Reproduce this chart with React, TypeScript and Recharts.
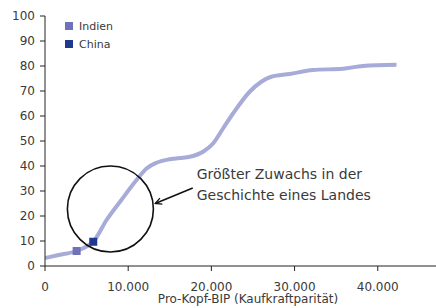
import React from 'react';
import {
  ComposedChart,
  Line,
  Scatter,
  XAxis,
  YAxis,
  ReferenceDot,
  ReferenceLine,
} from 'recharts';

const curveX = [0, 1500, 3800, 5000, 5800, 7400, 9200, 11000, 12200, 13400, 14800, 16200, 17400, 19000, 20200, 21400, 22600, 24600, 26000, 27200, 29400, 32200, 35800, 38200, 42250];
const curveY = [3.2, 4.3, 6.0, 7.8, 9.7, 18.4, 26.5, 34.4, 39, 41.3, 42.6, 43.2, 43.7, 45.7, 49, 55, 61, 69.7, 73.7, 75.7, 76.8, 78.4, 78.9, 80, 80.5];

const seriesNames = ['Indien', 'China'];
const seriesColors = ['#6e72b8', '#1d3a8e'];
const markerX = [3800, 5800];
const markerY = [6.0, 9.7];

const xTicks = [0, 10000, 20000, 30000, 40000];
const yTicks = [0, 10, 20, 30, 40, 50, 60, 70, 80, 90, 100];

const annotationLines = ['Größter Zuwachs in der', 'Geschichte eines Landes'];
const xAxisTitle = 'Pro-Kopf-BIP (Kaufkraftparität)';

const curveData = curveX.map((x, i) => ({ x, y: curveY[i] }));
const indiaData = [{ x: markerX[0], y: markerY[0] }];
const chinaData = [{ x: markerX[1], y: markerY[1] }];

const FONT = '"DejaVu Sans", Verdana, sans-serif';
const TEXT = '#3a3a3a';

const fmt = (v: number) => (v === 0 ? '0' : v.toLocaleString('de-DE'));

const AnnotationText = (props: any) => {
  const vb = props.viewBox || {};
  return (
    <text x={vb.x} y={vb.y} fontFamily={FONT} fontSize={14} fill={TEXT}>
      {annotationLines.map((l, i) => (
        <tspan key={i} x={vb.x} dy={i === 0 ? 0 : 21}>
          {l}
        </tspan>
      ))}
    </text>
  );
};

const XTitle = (props: any) => {
  const vb = props.viewBox || {};
  return (
    <text x={248} y={vb.y + 37} textAnchor="middle" fontFamily={FONT} fontSize={12} fill={TEXT}>
      {xAxisTitle}
    </text>
  );
};

export default function App() {
  return (
    <div style={{ position: 'absolute', left: 0, top: 0, width: 436, height: 308, background: '#fff' }}>
      <svg width={0} height={0} style={{ position: 'absolute' }}>
        <defs>
          <marker id="arrowHead" viewBox="0 0 10 10" refX="9" refY="5" markerWidth="8" markerHeight="8" orient="auto" markerUnits="userSpaceOnUse">
            <path d="M1,1 L9,5 L1,9" fill="none" stroke="#111" strokeWidth={1.6} />
          </marker>
        </defs>
      </svg>
      <ComposedChart width={436} height={308} margin={{ top: 16, right: 0, left: 0, bottom: 0 }}>
        <XAxis
          type="number"
          dataKey="x"
          domain={[0, 47000]}
          ticks={xTicks}
          tickFormatter={fmt}
          allowDataOverflow
          height={42}
          tickSize={5}
          tickMargin={11}
          stroke="#222"
          tick={{ fill: TEXT, fontFamily: FONT, fontSize: 12 }}
          label={<XTitle />}
        />
        <YAxis
          type="number"
          dataKey="y"
          domain={[0, 100]}
          ticks={yTicks}
          width={45}
          tickSize={5}
          tickMargin={5}
          stroke="#222"
          tick={{ fill: TEXT, fontFamily: FONT, fontSize: 12 }}
        />
        <ReferenceDot x={7860} y={22.8} r={43} fill="none" stroke="#111" strokeWidth={1.6} ifOverflow="visible" />
        <ReferenceLine
          segment={[{ x: 17760, y: 31.2 }, { x: 13250, y: 25.0 }]}
          stroke="#111"
          strokeWidth={1.6}
          markerEnd="url(#arrowHead)"
          ifOverflow="visible"
        />
        <ReferenceDot x={18240} y={34.8} r={0} fill="none" stroke="none" ifOverflow="visible" label={<AnnotationText />} />
        <Line
          data={curveData}
          dataKey="y"
          type="monotone"
          stroke="#a7abd8"
          strokeWidth={4}
          dot={false}
          activeDot={false}
          legendType="none"
          isAnimationActive={false}
        />
        <Scatter name={seriesNames[0]} data={indiaData} dataKey="y" fill={seriesColors[0]} shape="square" isAnimationActive={false} />
        <Scatter name={seriesNames[1]} data={chinaData} dataKey="y" fill={seriesColors[1]} shape="square" isAnimationActive={false} />
      </ComposedChart>
      <div style={{ position: 'absolute', left: 65, top: 17, fontFamily: FONT, fontSize: 11, color: TEXT }}>
        {seriesNames.map((n, i) => (
          <div key={n} style={{ display: 'flex', alignItems: 'center', height: 18 }}>
            <span style={{ width: 8, height: 8, background: seriesColors[i], display: 'inline-block', marginRight: 6 }} />
            <span>{n}</span>
          </div>
        ))}
      </div>
    </div>
  );
}
